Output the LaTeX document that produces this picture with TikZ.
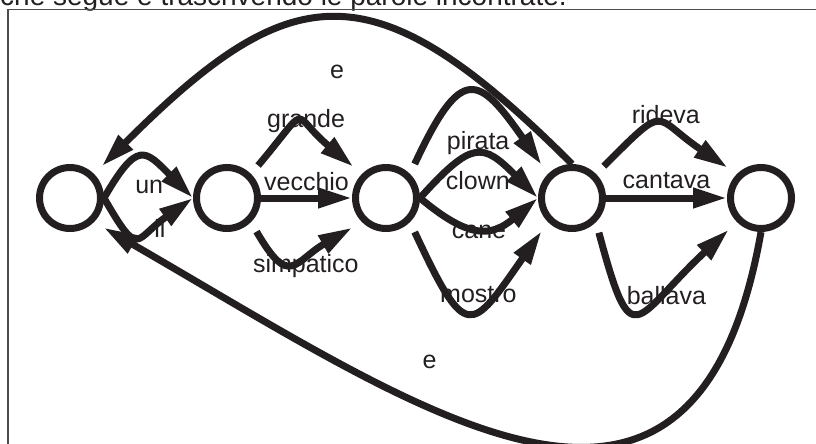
\documentclass[tikz,border=0pt]{standalone}
\usepackage{fontspec}
\setmainfont{Liberation Sans}
\usetikzlibrary{arrows.meta, positioning}
\definecolor{ink}{RGB}{35,31,32}

\begin{document}
\begin{tikzpicture}[
			node distance=89pt,
			every node/.style={font=\fontsize{25}{30}\selectfont, text=ink},
			state/.style={
				circle,
				minimum size=61pt,
				inner sep=0pt,
				line width=7pt,
				draw=ink
			},
			lbl/.style={
				inner sep=0pt,
				text height=18pt,
				text depth=5pt
			},
			arrow/.style={line width=7pt, draw=ink, -{Triangle[length=34pt,width=19pt]}},
			spaced/.style={shorten <=11pt, shorten >=11pt},
			pageframe/.style={draw=black!70, line width=1.3pt}
			]
			
			\useasboundingbox (0pt,0pt) rectangle (816pt,-444pt);
			\clip (0pt,0pt) rectangle (816pt,-444pt);
			
			% Text and frame
			\node (intro) [anchor=base west, inner sep=0pt, font=\fontsize{28}{34}\selectfont] at (0pt,-6pt) {che segue e trascrivendo le parole incontrate.};
			\draw [pageframe] (8pt,-9.5pt) rectangle (830pt,-460pt);
			
			% Nodes
			\node (inizio) [state] at (70pt,-198pt) {};
			\node (articolo) [state, right=of inizio] {};
			\node (aggettivo) [state, right=91pt of articolo] {};
			\node (nome) [state, right=118pt of aggettivo] {};
			\node (verbo) [state, right=121pt of nome] {};
			
			% Arrows
			\draw [arrow] (inizio.east) to[out=60,in=135,looseness=1.95] node[lbl, xshift=6pt, yshift=-29pt] {un} (articolo.west);
			\draw [arrow] (inizio.east) to[out=-60,in=-145,looseness=2.07] node[lbl, xshift=20pt, yshift=6pt] {il} (articolo.west);
			\draw [arrow, spaced] (articolo.north east) to[out=50,in=140,looseness=2.2] node[lbl, xshift=4pt, yshift=3pt] {grande} (aggettivo.north west);
			\draw [arrow] (articolo) -- node[lbl, yshift=14pt] {vecchio} (aggettivo);
			\draw [arrow, spaced] (articolo.south east) to[out=-60,in=-150,looseness=1.8] node[lbl, xshift=10pt, yshift=-4pt] {simpatico} (aggettivo.south west);
			\draw [arrow, spaced] (aggettivo.north east) to[out=65,in=125,looseness=2.26] node[lbl, xshift=6pt, yshift=-48pt] {pirata} (nome.north west);
			\draw [arrow] (aggettivo.east) to[out=48,in=135,looseness=1.7] node[lbl, yshift=-28pt] {clown} (nome.west);
			\draw [arrow] (aggettivo.east) to[out=-40,in=-140,looseness=1.35] node[lbl, yshift=-4pt] {cane} (nome.west);
			\draw [arrow, spaced] (aggettivo.south east) to[out=-65,in=-125,looseness=2.5] node[lbl, xshift=7pt, yshift=13pt] {mostro} (nome.south west);
			\draw [arrow, spaced] (nome.north east) to[out=45,in=146,looseness=1.87] node[lbl, xshift=4pt, yshift=8pt] {rideva} (verbo.north west);
			\draw [arrow] (nome) -- node[lbl, yshift=16pt] {cantava} (verbo);
			\draw [arrow, spaced] (nome.south east) to[out=-75,in=-137,looseness=2.58] node[lbl, xshift=25pt, yshift=12pt] {ballava} (verbo.south west);
			\draw [arrow, shorten >=11pt] (nome.north) to[out=135,in=45,looseness=1.5] node[lbl, xshift=4pt, yshift=-52pt] {e} (inizio.north east);
			\draw [arrow, shorten >=11pt] (verbo.south) to[out=-100,in=-30,looseness=1.46] node[lbl, xshift=-97pt, yshift=77pt] {e} (inizio.south east);
			
		\end{tikzpicture}
\end{document}
